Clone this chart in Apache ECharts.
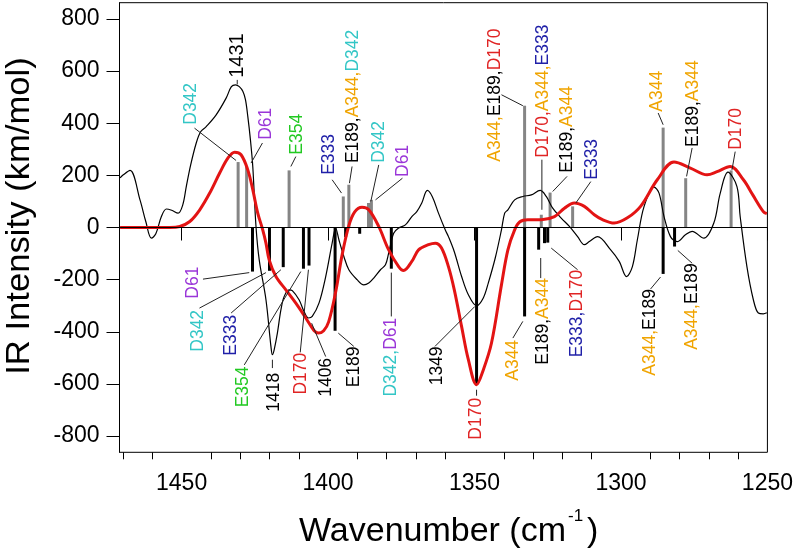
<!DOCTYPE html>
<html><head><meta charset="utf-8">
<script src="https://cdn.jsdelivr.net/npm/echarts@6/dist/echarts.min.js"></script>
<style>html,body{margin:0;padding:0;background:#fff}#c{width:796px;height:555px}</style>
</head><body><div id="c"></div>
<script>
// ---- data ----
const xTicksMajor = [1250, 1300, 1350, 1400, 1450];
const xTicksMinor = [1260, 1270, 1280, 1290, 1310, 1320, 1330, 1340, 1360, 1370, 1380, 1390, 1410, 1420, 1430, 1440, 1460, 1470];
const yTicks = [-800, -600, -400, -200, 0, 200, 400, 600, 800];

const blackCurve = [[1471.0,190],[1469.9,202],[1467.6,219],[1464.2,106],[1462.2,22],[1460.3,-41],[1458.8,-24],[1456.9,42],[1455.2,71],[1453.4,66],[1451.2,55],[1449.6,87],[1448.4,157],[1446.9,240],[1445.0,324],[1443.5,367],[1441.6,387],[1438.2,432],[1434.8,496],[1433.0,540],[1431.6,547],[1430.3,540],[1429.1,522],[1428.2,490],[1427.4,426],[1426.5,336],[1425.7,234],[1424.6,4],[1423.5,-124],[1421.2,-277],[1419.5,-456],[1419.0,-488],[1418.4,-469],[1417.3,-405],[1416.1,-316],[1415.0,-265],[1413.3,-239],[1412.2,-242],[1409.9,-277],[1408.2,-322],[1406.7,-347],[1405.4,-341],[1403.1,-290],[1400.8,-188],[1398.6,-60],[1397.4,-2],[1396.3,-47],[1394.6,-111],[1392.9,-162],[1390.1,-200],[1387.8,-220],[1386.1,-213],[1384.4,-194],[1382.1,-162],[1380.4,-143],[1379.3,-98],[1377.6,-22],[1375.9,-2],[1373.6,10],[1371.4,42],[1369.7,61],[1368.0,94],[1366.1,142],[1364.4,118],[1362.3,55],[1360.0,-9],[1358.9,-35],[1356.9,-93],[1354.4,-188],[1352.1,-258],[1349.3,-300],[1347.0,-270],[1345.3,-213],[1342.9,-116],[1340.8,-9],[1339.7,55],[1338.6,68],[1336.3,106],[1333.5,119],[1330.6,125],[1327.6,142],[1325.5,119],[1323.3,74],[1320.4,36],[1317.6,4],[1314.8,-35],[1312.5,-66],[1310.8,-54],[1308.0,-35],[1303.5,-86],[1300.6,-130],[1298.1,-188],[1296.1,-150],[1294.4,-47],[1292.1,81],[1288.7,155],[1287.0,132],[1285.3,42],[1283.1,-35],[1280.8,-54],[1278.0,-28],[1275.7,-15],[1271.7,-41],[1268.3,17],[1266.1,132],[1263.5,212],[1260.4,157],[1259.3,42],[1257.0,-150],[1254.8,-277],[1253.1,-328],[1251.4,-331],[1250.2,-327]];

const redCurve = [[1471.0,0],[1454.0,0],[1450.6,4],[1447.2,23],[1443.8,68],[1440.4,132],[1437.0,209],[1434.2,266],[1431.9,289],[1429.7,279],[1427.4,221],[1425.7,145],[1424.0,55],[1422.3,-9],[1421.2,-60],[1420.1,-124],[1417.8,-188],[1414.4,-239],[1411.0,-290],[1407.6,-347],[1404.8,-395],[1403.3,-405],[1401.5,-396],[1399.8,-362],[1397.4,-247],[1395.2,-105],[1392.9,7],[1390.9,60],[1388.4,78],[1386.1,68],[1382.7,4],[1379.3,-86],[1375.9,-150],[1374.2,-165],[1371.4,-130],[1369.1,-86],[1365.7,-66],[1363.4,-60],[1361.3,-78],[1358.9,-150],[1356.9,-239],[1354.4,-380],[1352.1,-507],[1349.3,-603],[1347.0,-546],[1344.2,-443],[1340.8,-220],[1338.6,-86],[1336.3,-9],[1334.5,22],[1331.8,30],[1327.2,30],[1322.7,42],[1319.3,74],[1315.9,94],[1312.5,81],[1309.1,49],[1306.3,30],[1302.3,17],[1297.8,37],[1293.3,81],[1287.6,183],[1281.9,251],[1276.3,228],[1270.6,202],[1267.2,214],[1262.7,234],[1258.2,183],[1255.0,125],[1251.4,61],[1250.2,53]];

const posBars = [[1430.7,251],[1427.8,234],[1413.3,219],[1394.8,119],[1392.9,164],[1386.2,94],[1385.2,106],[1332.9,467],[1327.2,49],[1324.2,134],[1316.5,81],[1285.6,383],[1277.9,189],[1262.4,219]];
const negBars = [[1425.8,-169],[1420.0,-166],[1415.3,-152],[1408.4,-158],[1406.5,-146],[1397.6,-396],[1394.0,-37],[1389.2,-24],[1378.4,-158],[1349.3,-603],[1332.9,-341],[1328.1,-85],[1326.1,-60],[1325.0,-58],[1285.6,-178],[1281.7,-73]];

// annotation texts (read bottom to top)
const labelTexts = [
  '1431', 'D342', 'D61', 'E354', 'E333', 'E189,A344,D342', 'D342', 'D61',
  'A344,E189,D170', 'D170,A344,E333', 'E189,A344', 'E333', 'A344', 'E189,A344', 'D170',
  'D61', 'D342', 'E333', 'E354', '1418', 'D170', '1406', 'E189', 'D342,D61', '1349', 'D170', 'A344',
  'E189,A344', 'E333,D170', 'A344,E189', 'A344,E189'
];
// annotation anchors in data units: text end x, y, direction (1 up / -1 down), leader x1,y1,x2,y2
const labelAnchors = [
  [1431.0,574,1, 1431.0,566,1431.0,549],
  [1446.7,394,1, 1445.6,381,1431.4,257],
  [1421.2,336,1, 1422.4,324,1426.3,247],
  [1410.5,279,1, 1411.0,272,1412.7,234],
  [1399.5,202,1, 1398.6,183,1395.4,132],
  [1391.5,247,1, 1391.8,234,1392.7,170],
  [1382.7,248,1, 1382.7,240,1385.4,100],
  [1374.2,194,1, 1374.6,189,1383.8,106],
  [1343.1,252,1, 1340.8,509,1333.5,467],
  [1326.7,267,1, 1327.0,260,1327.0,68],
  [1318.2,210,1, 1318.4,196,1323.3,138],
  [1309.7,183,1, 1310.3,176,1315.4,94],
  [1287.6,444,1, 1287.3,439,1285.6,394],
  [1275.4,309,1, 1275.7,305,1277.6,196],
  [1260.8,298,1, 1261.0,291,1262.1,221],
  [1446.1,-150,-1, 1442.7,-198,1426.9,-173],
  [1444.2,-316,-1, 1443.9,-309,1421.2,-173],
  [1433.1,-335,-1, 1433.1,-328,1416.1,-162],
  [1429.1,-533,-1, 1428.6,-527,1409.3,-169],
  [1418.4,-557,-1, 1419.0,-507,1419.0,-539],
  [1409.3,-480,-1, 1409.5,-479,1406.7,-162],
  [1400.5,-500,-1, 1400.8,-495,1405.6,-367],
  [1391.2,-456,-1, 1391.2,-456,1396.5,-405],
  [1378.5,-346,-1, 1378.4,-341,1378.4,-173],
  [1362.9,-456,-1, 1363.5,-456,1349.9,-303],
  [1349.3,-653,-1, 1349.3,-622,1349.3,-645],
  [1336.9,-431,-1, 1336.9,-424,1333.5,-360],
  [1326.7,-194,-1, 1327.4,-194,1327.4,-117],
  [1314.8,-162,-1, 1314.8,-162,1323.8,-79],
  [1289.9,-236,-1, 1289.9,-236,1286.5,-190],
  [1275.7,-137,-1, 1275.7,-137,1280.6,-88]
];

// ---- styles ----
const FONT = '"Liberation Sans", Arial, Helvetica, sans-serif';
const LBL = 17.5;
const BIG_LBL = 20;          // the 1431 peak label is drawn larger
const residueColor = {D342:'#33c6c6', D61:'#9a36d8', E354:'#22c922', E333:'#2020a8', A344:'#f0a400', D170:'#e02424', E189:'#000000'};
const rich = {};
Object.keys(residueColor).forEach(k => { rich[k] = {fill: residueColor[k], fontSize: LBL, fontFamily: FONT}; });
rich.num = {fill: '#000', fontSize: LBL, fontFamily: FONT};
rich.big = {fill: '#000', fontSize: BIG_LBL, fontFamily: FONT};

function richText(str, idx) {
  const parts = str.split(',');
  return parts.map((p, j) => {
    const key = residueColor[p] ? p : (idx === 0 ? 'big' : 'num');
    return '{' + key + '|' + p + (j < parts.length - 1 ? ',' : '') + '}';
  }).join('');
}

const chart = echarts.init(document.getElementById('c'), null, {renderer: 'canvas'});

function barItem(color) {
  return function (params, api) {
    const x = api.value(0), y = api.value(1);
    const p0 = api.coord([x, 0]), p1 = api.coord([x, y]);
    return {type: 'rect', shape: {x: p0[0] - 1.5, y: Math.min(p0[1], p1[1]), width: 3, height: Math.abs(p1[1] - p0[1])},
      style: {fill: color}};
  };
}

const annData = labelAnchors.map((a, i) => [a[0], a[1], a[2], a[3], a[4], a[5], a[6], i]);
const plain = v => String(v);

const option = {
  animation: false,
  grid: {left: 119.5, right: 25.3, top: 2.7, bottom: 102.7, show: true, borderColor: '#000', borderWidth: 1, backgroundColor: 'transparent'},
  xAxis: [
    {type: 'value', min: 1250, max: 1471.2, inverse: true, position: 'bottom',
      axisLine: {show: true, lineStyle: {color: '#000', width: 1}},
      axisTick: {show: true, length: 13, customValues: xTicksMajor, lineStyle: {color: '#000', width: 1}},
      axisLabel: {customValues: xTicksMajor, formatter: plain, fontSize: 23, color: '#000', fontFamily: FONT, margin: 20},
      splitLine: {show: false}},
    {type: 'value', min: 1250, max: 1471.2, inverse: true, position: 'bottom',
      axisLine: {show: false},
      axisTick: {show: true, length: 7, customValues: xTicksMinor, lineStyle: {color: '#000', width: 1}},
      axisLabel: {show: false}, splitLine: {show: false}}
  ],
  yAxis: {type: 'value', min: -862, max: 862,
    axisLine: {show: true, lineStyle: {color: '#000', width: 1}},
    axisTick: {show: true, length: 13, customValues: yTicks, lineStyle: {color: '#000', width: 1}},
    axisLabel: {customValues: yTicks, formatter: plain, fontSize: 23, color: '#000', fontFamily: FONT, margin: 20},
    splitLine: {show: false}},
  series: [
    {type: 'custom', name: 'pos', xAxisIndex: 0, renderItem: barItem('#858585'), data: posBars, z: 1},
    {type: 'custom', name: 'neg', xAxisIndex: 0, renderItem: barItem('#000000'), data: negBars, z: 1},
    {type: 'line', name: 'exp', xAxisIndex: 0, data: blackCurve, smooth: 0.35, showSymbol: false, z: 2,
      lineStyle: {color: '#000', width: 1.2},
      markLine: {silent: true, symbol: 'none', label: {show: false}, data: [{yAxis: 0}],
        lineStyle: {color: '#000', width: 1, type: 'solid'}}},
    {type: 'line', name: 'calc', xAxisIndex: 0, data: redCurve, smooth: 0.35, showSymbol: false, z: 3,
      lineStyle: {color: '#e31414', width: 3}},
    {type: 'custom', name: 'labels', xAxisIndex: 0, data: annData, z: 4,
      renderItem: function (params, api) {
        const i = api.value(7);
        const dir = api.value(2);
        const tp = api.coord([api.value(0), api.value(1)]);
        const l1 = api.coord([api.value(3), api.value(4)]);
        const l2 = api.coord([api.value(5), api.value(6)]);
        return {type: 'group', children: [
          {type: 'line', shape: {x1: l1[0], y1: l1[1], x2: l2[0], y2: l2[1]}, style: {stroke: '#222', lineWidth: 1}},
          {type: 'text', x: tp[0], y: tp[1], rotation: Math.PI / 2,
            style: {text: richText(labelTexts[i], i), rich: rich, fontSize: LBL, fontFamily: FONT,
              align: dir > 0 ? 'left' : 'right', verticalAlign: 'middle'}}
        ]};
      }}
  ],
  graphic: [
    {type: 'text', x: 20, y: 216, rotation: Math.PI / 2, scaleX: 1.05,
      style: {text: 'IR Intensity (km/mol)', fontSize: 33, fontFamily: FONT, fill: '#000', align: 'center', verticalAlign: 'middle'}},
    {type: 'text', x: 566, y: 532, style: {text: 'Wavenumber (cm', fontSize: 34, fontFamily: FONT, fill: '#000', align: 'right', verticalAlign: 'middle'}},
    {type: 'text', x: 568, y: 516, style: {text: '-1', fontSize: 17, fontFamily: FONT, fill: '#000', align: 'left', verticalAlign: 'middle'}},
    {type: 'text', x: 587, y: 532, style: {text: ')', fontSize: 34, fontFamily: FONT, fill: '#000', align: 'left', verticalAlign: 'middle'}}
  ]
};
chart.setOption(option);
</script></body></html>
